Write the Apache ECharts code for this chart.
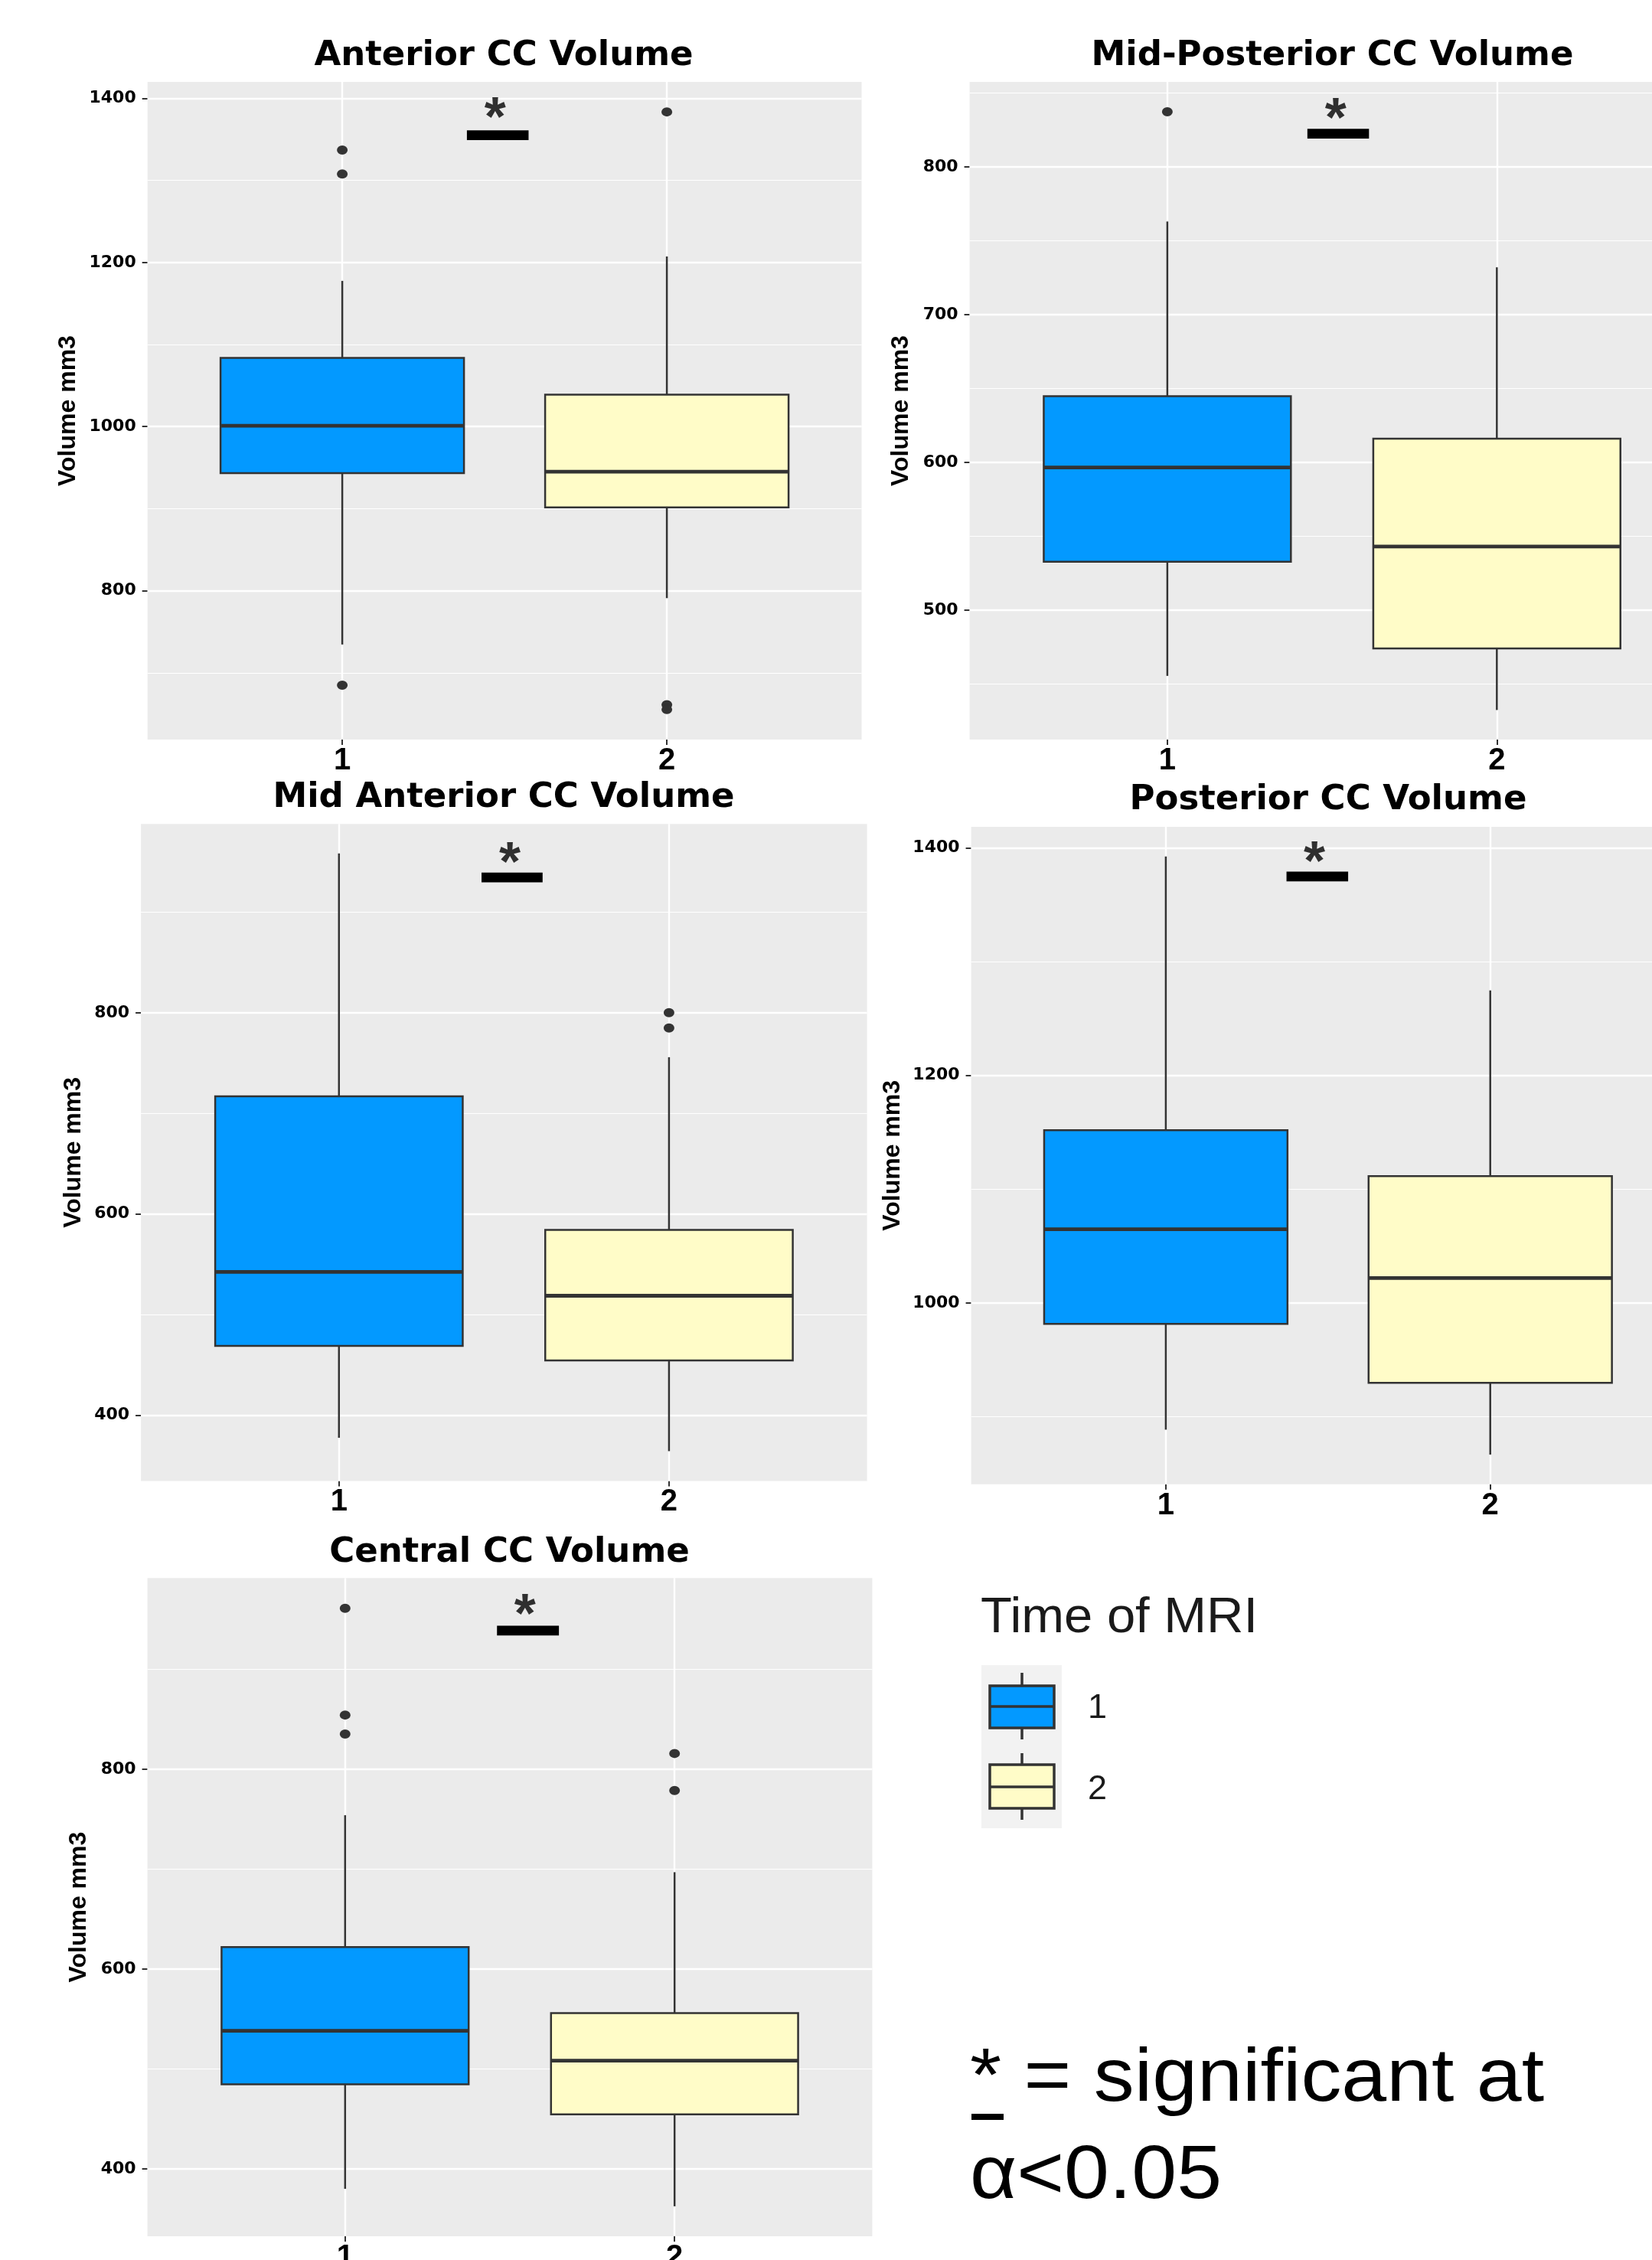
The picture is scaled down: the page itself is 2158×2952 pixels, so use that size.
<!DOCTYPE html>
<html>
<head>
<meta charset="utf-8">
<script src="https://cdn.jsdelivr.net/npm/echarts@6/dist/echarts.min.js"></script>
<style>
html,body{margin:0;padding:0;background:#ffffff;}
#chart{width:2158px;height:2952px;}
</style>
</head>
<body>
<div id="chart"></div>
<script>
// ================= DATA =================
const categories = ['1', '2'];
const legendTitle = 'Time of MRI';

// Box statistics per time point: [lower whisker, Q1, median, Q3, upper whisker]
const anteriorBox     = [[734.5, 943.3, 1001.0, 1083.6, 1177.6], [791.0, 901.6, 945.0, 1039.0, 1207.3]];
const midPosteriorBox = [[455.4, 532.7, 596.5, 644.7, 763.0],   [432.3, 474.0, 543.0, 616.0, 732.0]];
const midAnteriorBox  = [[377.7, 468.9, 542.5, 716.9, 958.2],   [364.4, 454.6, 518.8, 584.3, 755.8]];
const posteriorBox    = [[888.6, 981.5, 1064.8, 1151.8, 1392.4], [866.7, 929.8, 1021.9, 1111.5, 1274.7]];
const centralBox      = [[380.0, 484.6, 538.2, 621.9, 753.9],   [362.5, 454.6, 508.3, 555.8, 696.9]];

// Outliers: [time point, value]
const anteriorOutliers     = [[1, 1337.0], [1, 1307.9], [1, 685.0], [2, 1383.5], [2, 661.2], [2, 655.2]];
const midPosteriorOutliers = [[1, 837.3]];
const midAnteriorOutliers  = [[2, 800.0], [2, 784.8]];
const posteriorOutliers    = [];
const centralOutliers      = [[1, 961.0], [1, 854.2], [1, 835.2], [2, 815.7], [2, 778.6]];

// Y axis ranges and tick labels
const anteriorRange     = [618.7, 1420.0];
const midPosteriorRange = [412.3, 857.5];
const midAnteriorRange  = [334.8, 987.5];
const posteriorRange    = [840.6, 1418.5];
const centralRange      = [332.5, 991.3];

const anteriorTicks     = [800, 1000, 1200, 1400];
const midPosteriorTicks = [500, 600, 700, 800];
const midAnteriorTicks  = [400, 600, 800];
const posteriorTicks    = [1000, 1200, 1400];
const centralTicks      = [400, 600, 800];

const anteriorMinor     = [700, 900, 1100, 1300];
const midPosteriorMinor = [450, 550, 650, 750, 850];
const midAnteriorMinor  = [500, 700, 900];
const posteriorMinor    = [900, 1100, 1300];
const centralMinor      = [500, 700, 900];

// Significance bar ends and asterisk position (data coordinates)
const anteriorSigBar     = [[1.384, 1355.0], [1.574, 1355.0]];
const midPosteriorSigBar = [[1.425, 822.5], [1.612, 822.5]];
const midAnteriorSigBar  = [[1.432, 934.4], [1.617, 934.4]];
const posteriorSigBar    = [[1.372, 1374.8], [1.562, 1374.8]];
const centralSigBar      = [[1.461, 938.7], [1.649, 938.7]];

const anteriorStar     = [1.471, 1387.0];
const midPosteriorStar = [1.511, 838.6];
const midAnteriorStar  = [1.518, 958.1];
const posteriorStar    = [1.458, 1395.4];
const centralStar      = [1.546, 963.4];

// ================= STYLE / LAYOUT =================
const FILLS = ['#0399FF', '#FFFCC8'];
const LINE = '#333333';
const BOX_WIDTH = 0.75;   // ggplot default box width (x units)

const panels = [
  { title: 'Anterior CC Volume',      box: anteriorBox,     out: anteriorOutliers,     range: anteriorRange,     ticks: anteriorTicks,     minor: anteriorMinor,     bar: anteriorSigBar,     star: anteriorStar,
    grid: [192.7, 107, 932.8, 859],    titleX: 658,    titleTop: 50.5,  nameGap: 88 },
  { title: 'Mid-Posterior CC Volume', box: midPosteriorBox, out: midPosteriorOutliers, range: midPosteriorRange, ticks: midPosteriorTicks, minor: midPosteriorMinor, bar: midPosteriorSigBar, star: midPosteriorStar,
    grid: [1266.6, 107, 947, 859],     titleX: 1740.5, titleTop: 50.5,  nameGap: 73 },
  { title: 'Mid Anterior CC Volume',  box: midAnteriorBox,  out: midAnteriorOutliers,  range: midAnteriorRange,  ticks: midAnteriorTicks,  minor: midAnteriorMinor,  bar: midAnteriorSigBar,  star: midAnteriorStar,
    grid: [184.1, 1076.3, 948.5, 858.1], titleX: 658,  titleTop: 1019.5, nameGap: 72 },
  { title: 'Posterior CC Volume',     box: posteriorBox,    out: posteriorOutliers,    range: posteriorRange,    ticks: posteriorTicks,    minor: posteriorMinor,    bar: posteriorSigBar,    star: posteriorStar,
    grid: [1268.6, 1080, 932.4, 858.75], titleX: 1735, titleTop: 1023,   nameGap: 86 },
  { title: 'Central CC Volume',       box: centralBox,      out: centralOutliers,      range: centralRange,      ticks: centralTicks,      minor: centralMinor,      bar: centralSigBar,      star: centralStar,
    grid: [192.6, 2061.2, 946.8, 859.8], titleX: 665.5, titleTop: 2005.5, nameGap: 73 }
];

function renderBox(params, api) {
  const x = api.value(0);
  const lo = api.coord([x, api.value(1)]);
  const q1 = api.coord([x, api.value(2)]);
  const med = api.coord([x, api.value(3)]);
  const q3 = api.coord([x, api.value(4)]);
  const hi = api.coord([x, api.value(5)]);
  const w = api.size([BOX_WIDTH, 0])[0];
  const cx = q1[0];
  return {
    type: 'group',
    children: [
      { type: 'line', shape: { x1: cx, y1: hi[1], x2: cx, y2: q3[1] }, style: { stroke: LINE, lineWidth: 2.5 } },
      { type: 'line', shape: { x1: cx, y1: q1[1], x2: cx, y2: lo[1] }, style: { stroke: LINE, lineWidth: 2.5 } },
      { type: 'rect', shape: { x: cx - w / 2, y: q3[1], width: w, height: q1[1] - q3[1] },
        style: { fill: FILLS[params.dataIndex], stroke: LINE, lineWidth: 2.5 } },
      { type: 'line', shape: { x1: cx - w / 2, y1: med[1], x2: cx + w / 2, y2: med[1] }, style: { stroke: LINE, lineWidth: 4.8 } }
    ]
  };
}

const option = {
  animation: false,
  backgroundColor: '#ffffff',
  title: [], grid: [], xAxis: [], yAxis: [], series: [], graphic: []
};

panels.forEach(function (p, i) {
  option.title.push({
    text: p.title, left: p.titleX, top: p.titleTop, textAlign: 'center', padding: 0,
    textStyle: { fontFamily: 'DejaVu Sans', fontWeight: 'bold', fontSize: 45, color: '#000000' }
  });
  option.grid.push({
    left: p.grid[0], top: p.grid[1], width: p.grid[2], height: p.grid[3],
    show: true, backgroundColor: '#EBEBEB', borderWidth: 0, containLabel: false, outerBoundsMode: 'none'
  });
  option.xAxis.push({
    gridIndex: i, type: 'value', min: 0.4, max: 2.6,
    axisLine: { show: false }, splitLine: { show: false },
    axisTick: { show: true, customValues: [1, 2], length: 7, lineStyle: { color: LINE, width: 2 } },
    axisLabel: { show: true, customValues: [1, 2], margin: 8,
      formatter: function (v) { return categories[Math.round(v) - 1]; },
      fontFamily: 'Liberation Sans', fontWeight: 'bold', fontSize: 40, color: '#000000' }
  });
  option.yAxis.push({
    gridIndex: i, type: 'value', min: p.range[0], max: p.range[1],
    name: 'Volume mm3', nameLocation: 'middle', nameRotate: 90, nameGap: p.nameGap,
    nameTextStyle: { fontFamily: 'Liberation Sans', fontWeight: 'bold', fontSize: 32, color: '#000000' },
    axisLine: { show: false }, splitLine: { show: false },
    axisTick: { show: true, customValues: p.ticks, length: 7, lineStyle: { color: LINE, width: 2 } },
    axisLabel: { show: true, customValues: p.ticks, margin: 15,
      formatter: function (v) { return String(Math.round(v)); },
      fontFamily: 'DejaVu Sans', fontWeight: 'bold', fontSize: 22, color: '#000000' }
  });
  const gridLines = [{ xAxis: 1, lineStyle: { width: 2.4 } }, { xAxis: 2, lineStyle: { width: 2.4 } }]
    .concat(p.ticks.map(function (v) { return { yAxis: v, lineStyle: { width: 2.4 } }; }))
    .concat(p.minor.map(function (v) { return { yAxis: v, lineStyle: { width: 1.2 } }; }));
  option.series.push({
    type: 'custom', xAxisIndex: i, yAxisIndex: i, silent: true, z: 3,
    data: p.box.map(function (b, k) { return [k + 1].concat(b); }),
    encode: { x: 0, y: [1, 2, 3, 4, 5] },
    renderItem: renderBox
  });
  option.series.push({
    type: 'scatter', xAxisIndex: i, yAxisIndex: i, silent: true, z: 4,
    data: p.out, symbol: 'circle', symbolSize: [14, 12],
    itemStyle: { color: LINE, opacity: 1 }
  });
  option.series.push({
    type: 'line', xAxisIndex: i, yAxisIndex: i, silent: true, z: 5,
    data: p.bar, symbol: 'none',
    lineStyle: { color: '#000000', width: 12.7, cap: 'butt' },
    markLine: {
      silent: true, z: 1, animation: false, symbol: ['none', 'none'],
      label: { show: false }, emphasis: { disabled: true },
      lineStyle: { color: '#ffffff', type: 'solid', width: 2.4 },
      data: gridLines
    }
  });
  option.series.push({
    type: 'scatter', xAxisIndex: i, yAxisIndex: i, silent: true, z: 6,
    data: [p.star], symbolSize: 1, itemStyle: { color: 'rgba(0,0,0,0)' },
    label: { show: true, position: 'inside', formatter: '*', offset: [0, 15],
      fontFamily: 'Liberation Sans', fontWeight: 'bold', fontSize: 72, color: '#000000' }
  });
});

// Legend (ggplot-style key) and footnote
option.graphic = [
  { type: 'text', x: 1281, y: 2114, scaleX: 1.03, style: { text: legendTitle, fontFamily: 'Liberation Sans', fontSize: 65, fill: '#1a1a1a', align: 'left', verticalAlign: 'middle' } },
  { type: 'rect', shape: { x: 1282, y: 2175, width: 105, height: 213 }, style: { fill: '#F2F2F2' } },
  { type: 'line', shape: { x1: 1335, y1: 2185, x2: 1335, y2: 2272 }, style: { stroke: LINE, lineWidth: 3.5 } },
  { type: 'rect', shape: { x: 1293, y: 2202, width: 84, height: 55 }, style: { fill: FILLS[0], stroke: LINE, lineWidth: 3.5 } },
  { type: 'line', shape: { x1: 1293, y1: 2229, x2: 1377, y2: 2229 }, style: { stroke: LINE, lineWidth: 3.5 } },
  { type: 'line', shape: { x1: 1335, y1: 2290, x2: 1335, y2: 2377 }, style: { stroke: LINE, lineWidth: 3.5 } },
  { type: 'rect', shape: { x: 1293, y: 2305, width: 84, height: 57 }, style: { fill: FILLS[1], stroke: LINE, lineWidth: 3.5 } },
  { type: 'line', shape: { x1: 1293, y1: 2334, x2: 1377, y2: 2334 }, style: { stroke: LINE, lineWidth: 3.5 } },
  { type: 'text', x: 1421, y: 2232, style: { text: categories[0], fontFamily: 'Liberation Sans', fontSize: 45, fill: '#1a1a1a', align: 'left', verticalAlign: 'middle' } },
  { type: 'text', x: 1421, y: 2338, style: { text: categories[1], fontFamily: 'Liberation Sans', fontSize: 45, fill: '#1a1a1a', align: 'left', verticalAlign: 'middle' } },
  { type: 'text', x: 1267, y: 2717, scaleX: 1.08, style: { text: '* = significant at', fontFamily: 'Liberation Sans', fontSize: 98, fill: '#000000', align: 'left', verticalAlign: 'middle' } },
  { type: 'text', x: 1267, y: 2844, scaleX: 1.08, style: { text: 'α<0.05', fontFamily: 'Liberation Sans', fontSize: 98, fill: '#000000', align: 'left', verticalAlign: 'middle' } },
  { type: 'rect', shape: { x: 1269, y: 2761, width: 42, height: 8 }, style: { fill: '#000000' } }
];

const chart = echarts.init(document.getElementById('chart'), null, { renderer: 'canvas', width: 2158, height: 2952 });
chart.setOption(option);
</script>
</body>
</html>
